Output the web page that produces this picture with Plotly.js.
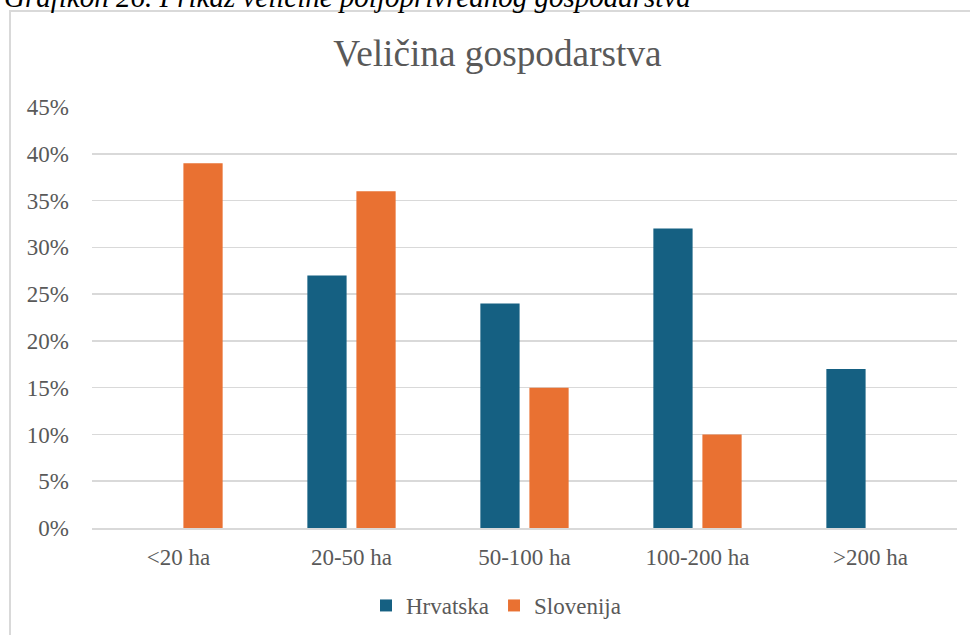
<!DOCTYPE html>
<html>
<head>
<meta charset="utf-8">
<script src="https://cdn.plot.ly/plotly-3.0.1.min.js"></script>
<style>
  html, body { margin: 0; padding: 0; width: 970px; height: 635px; overflow: hidden; background: #fff; }
  #frame { position: absolute; left: 9px; top: 10px; width: 1000px; height: 700px; border: 2px solid #d9d9d9; box-sizing: border-box; }
  #caption { position: absolute; left: 4px; top: -17px; font-family: "Liberation Serif", serif; font-style: italic; font-size: 29px; line-height: 29px; color: #000; white-space: nowrap; }
  #chart { position: absolute; left: 0; top: 0; width: 970px; height: 635px; }
</style>
</head>
<body>
<div id="frame"></div>
<div id="caption">Grafikon 26. Prikaz veličine poljoprivrednog gospodarstva</div>
<div id="chart"></div>
<script>
const categories = ["<20 ha", "20-50 ha", "50-100 ha", "100-200 ha", ">200 ha"];
const seriesNames = ["Hrvatska", "Slovenija"];
const hrvatska = [0, 0.27, 0.24, 0.32, 0.17];
const slovenija = [0.39, 0.36, 0.15, 0.10, 0];
const yTickVals = [0, 0.05, 0.10, 0.15, 0.20, 0.25, 0.30, 0.35, 0.40, 0.45];
const chartTitle = "Veličina gospodarstva";

const serif = "Liberation Serif";
const textGray = "#595959";

const traces = [
  { type: "bar", name: seriesNames[0], x: categories, y: hrvatska, marker: { color: "#156082" }, hoverinfo: "skip" },
  { type: "bar", name: seriesNames[1], x: categories, y: slovenija, marker: { color: "#E97132" }, hoverinfo: "skip" }
];

const layout = {
  width: 970,
  height: 635,
  margin: { l: 92, r: 13, t: 107, b: 107 },
  paper_bgcolor: "rgba(0,0,0,0)",
  plot_bgcolor: "rgba(0,0,0,0)",
  font: { family: serif, color: textGray },
  barmode: "group",
  bargap: 0.433,
  bargroupgap: 0.2,
  title: {
    text: chartTitle,
    font: { family: serif, size: 37.3, color: textGray },
    x: 497.5 / 970, xref: "container", xanchor: "center",
    y: 1 - 53 / 635, yref: "container", yanchor: "middle"
  },
  xaxis: {
    type: "category",
    showgrid: false,
    showline: true,
    linecolor: "#d9d9d9",
    linewidth: 1.5,
    ticks: "",
    ticklabelstandoff: 8,
    tickfont: { family: serif, size: 23, color: textGray }
  },
  yaxis: {
    range: [0, 0.45],
    tickvals: yTickVals,
    tickformat: ".0%",
    showgrid: true,
    gridcolor: "#d9d9d9",
    gridwidth: 1.5,
    zeroline: false,
    showline: false,
    ticks: "",
    ticklabelstandoff: 22,
    tickfont: { family: serif, size: 23, color: textGray }
  },
  showlegend: true,
  legend: {
    orientation: "h",
    xref: "container", yref: "container",
    x: 496 / 970, xanchor: "center",
    y: 1 - 605.5 / 635, yanchor: "middle",
    font: { family: serif, size: 23, color: textGray },
    itemwidth: 30,
    traceorder: "normal"
  }
};

Plotly.newPlot("chart", traces, layout, { staticPlot: true, displayModeBar: false });
</script>
</body>
</html>
